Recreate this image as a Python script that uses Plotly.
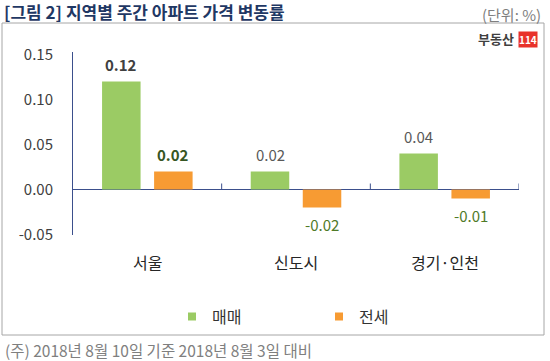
import plotly.graph_objects as go

# ---- data ----
categories = ["서울", "신도시", "경기·인천"]
sale = [0.12, 0.02, 0.04]        # 매매
jeonse = [0.02, -0.02, -0.01]    # 전세
series_names = ["매매", "전세"]
y_ticks = [-0.05, 0.00, 0.05, 0.10, 0.15]
y_ticklabels = ["-0.05", "0.00", "0.05", "0.10", "0.15"]
title_text = "[그림 2] 지역별 주간 아파트 가격 변동률"
unit_text = "(단위: %)"
note_text = "(주) 2018년 8월 10일 기준 2018년 8월 3일 대비"

# ---- layout geometry (pixels) ----
W, H = 550, 361
L, R, T, B = 73, 519, 52, 235
FONT = "Noto Sans CJK KR"
GREEN = "#9BCB64"
ORANGE = "#F79B33"
AXIS = "#3B4F8C"


def px(x):
    return (x - L) / (R - L)


def py(y):
    return (B - y) / (B - T)


fig = go.Figure()
fig.add_trace(go.Bar(x=categories, y=sale, name=series_names[0],
                     marker=dict(color=GREEN, line=dict(width=0)), showlegend=False))
fig.add_trace(go.Bar(x=categories, y=jeonse, name=series_names[1],
                     marker=dict(color=ORANGE, line=dict(width=0)), showlegend=False))
# legend proxies (small squares)
for nm, col in zip(series_names, [GREEN, ORANGE]):
    fig.add_trace(go.Scatter(x=[None], y=[None], mode="markers", name=nm,
                             marker=dict(symbol="square", size=8, color=col)))

annotations = []
# data labels
label_styles = {
    (0, 0): (True, "#404040"), (1, 0): (True, "#375623"),
    (0, 1): (False, "#595959"), (1, 1): (False, "#4F7A28"),
    (0, 2): (False, "#595959"), (1, 2): (False, "#4F7A28"),
}
for si, vals in enumerate([sale, jeonse]):
    for ci, (cat, v) in enumerate(zip(categories, vals)):
        bold, col = label_styles[(si, ci)]
        txt = f"{v:.2f}"
        if bold:
            txt = f"<b>{txt}</b>"
        annotations.append(dict(
            x=cat, y=v, xref="x", yref="y", text=txt, showarrow=False,
            xshift=-26 if si == 0 else 26, yshift=17 if v >= 0 else -17,
            yanchor="middle", xanchor="center",
            font=dict(family=FONT, size=15, color=col)))
# category labels
for cat in categories:
    annotations.append(dict(x=cat, y=py(262), xref="x", yref="paper", text=cat,
                            showarrow=False, yanchor="middle",
                            font=dict(family=FONT, size=16, color="#262626")))
# title, unit, note
annotations.append(dict(x=px(3), y=py(11.5), xref="paper", yref="paper",
                        text=f"<b>{title_text}</b>", showarrow=False,
                        xanchor="left", yanchor="middle", borderpad=0,
                        font=dict(family=FONT, size=17, color="#1F3864")))
annotations.append(dict(x=px(543), y=py(14), xref="paper", yref="paper",
                        text=unit_text, showarrow=False,
                        xanchor="right", yanchor="middle",
                        font=dict(family=FONT, size=15, color="#7F7F7F")))
annotations.append(dict(x=px(3), y=py(350), xref="paper", yref="paper",
                        text=note_text, showarrow=False,
                        xanchor="left", yanchor="middle",
                        font=dict(family=FONT, size=15.5, color="#7F7F7F")))
# logo
annotations.append(dict(x=px(516), y=py(39), xref="paper", yref="paper",
                        text="<b>부동산</b>", showarrow=False,
                        xanchor="right", yanchor="middle",
                        font=dict(family=FONT, size=13, color="#404040")))
annotations.append(dict(x=px(528), y=py(39.5), xref="paper", yref="paper",
                        text="<b>114</b>", showarrow=False,
                        xanchor="center", yanchor="middle", bgcolor="#E8322A",
                        borderpad=0,
                        font=dict(family=FONT, size=10, color="white")))

shapes = [
    # outer frame
    dict(type="rect", xref="paper", yref="paper", x0=px(2), x1=px(544),
         y0=py(335), y1=py(23), line=dict(color="#A6A6A6", width=1)),
]
# category boundary tick marks on the zero line (pointing up)
for b in [0.5, 1.5, 2.5]:
    shapes.append(dict(type="line", xref="x", yref="y", ysizemode="pixel",
                       yanchor=0, x0=b, x1=b, y0=0, y1=6,
                       line=dict(color=AXIS, width=1)))

fig.update_layout(
    width=W, height=H,
    margin=dict(l=L, r=W - R, t=T, b=H - B, pad=0, autoexpand=False),
    paper_bgcolor="white", plot_bgcolor="white",
    barmode="group", bargap=0.3, bargroupgap=0.26,
    font=dict(family=FONT, color="#404040"),
    xaxis=dict(range=[-0.5, 2.5], showticklabels=False, showgrid=False,
               zeroline=False, showline=False, ticks=""),
    yaxis=dict(range=[-0.05056, 0.15278], tickvals=y_ticks, ticktext=y_ticklabels,
               showgrid=False, zeroline=True, zerolinecolor=AXIS, zerolinewidth=1,
               showline=True, linecolor=AXIS, linewidth=1, ticks="",
               ticklabelstandoff=16,
               tickfont=dict(family=FONT, size=15, color="#404040")),
    legend=dict(orientation="h", x=px(172), y=py(316.5), xanchor="left",
                yanchor="middle", entrywidth=102, itemwidth=30,
                font=dict(family=FONT, size=16, color="#333333"),
                bgcolor="rgba(0,0,0,0)"),
    annotations=annotations,
    shapes=shapes,
)

fig.write_html("out.html", config={"displayModeBar": False},
               post_script="document.body.style.margin='0';document.body.style.padding='0';")
